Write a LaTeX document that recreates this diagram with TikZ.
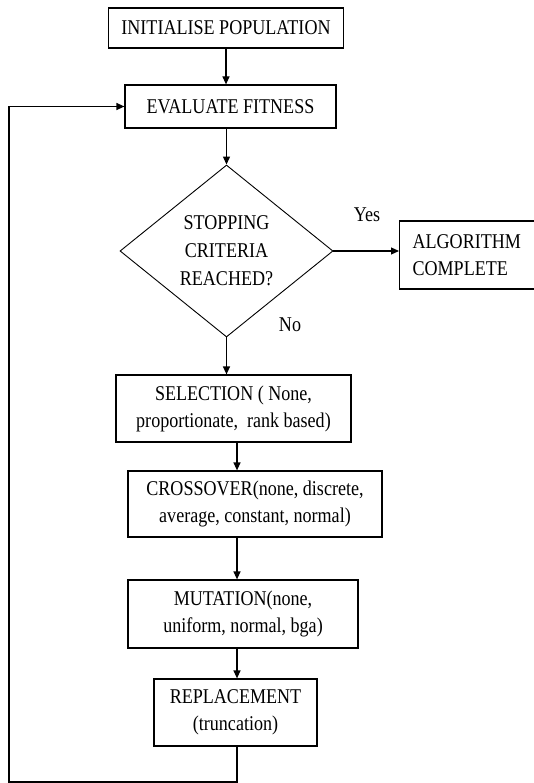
\documentclass[tikz,border=0pt]{standalone}
\usepackage{fontspec}
\setmainfont{Liberation Serif}[FakeStretch=0.86]
\usetikzlibrary{arrows.meta, positioning, shapes.geometric}

\begin{document}
\begin{tikzpicture}[x=1pt, y=-1pt,
  box/.style={draw, line width=1.2pt, align=center, inner sep=0pt, font=\fontsize{21}{27}\selectfont},
  decision/.style={diamond, draw, line width=0.9pt, align=center, inner sep=0pt, font=\fontsize{21}{28}\selectfont},
  lbl/.style={font=\fontsize{21}{24}\selectfont, inner sep=0pt},
  arr/.style={-{Triangle[length=8pt, width=7pt]}, line width=1.2pt}]
\useasboundingbox (0,0) rectangle (534,783);
\node[box, minimum width=235pt, minimum height=40pt] (init) at (226,28) {INITIALISE POPULATION};
\node[box, minimum width=211pt, minimum height=43pt] (eval) at (230.5,106.5) {EVALUATE FITNESS};
\node[decision, minimum width=213pt, minimum height=172pt] (stop) at (226.5,251) {STOPPING\\CRITERIA\\REACHED?};
\node[box, anchor=west, text width=124pt, inner xsep=13pt, align=left, minimum height=68pt] (done) at (399,255) {ALGORITHM\\COMPLETE};
\node[box, minimum width=235pt, minimum height=67pt] (sel) at (233.5,408.5) {SELECTION ( None,\\proportionate,\ \ rank based)};
\node[box, minimum width=254pt, minimum height=66pt] (cross) at (255,504) {CROSSOVER(none, discrete,\\average, constant, normal)};
\node[box, minimum width=230pt, minimum height=68pt] (mut) at (243,614) {MUTATION(none,\\uniform, normal, bga)};
\node[box, minimum width=163pt, minimum height=67pt] (repl) at (235.5,712.5) {REPLACEMENT\\(truncation)};
\node[lbl] (yes) at (367,215) {Yes};
\node[lbl] (no) at (290,325) {No};
\coordinate (spine) at (237,0);
\coordinate (corner) at (9,782);
% main flow
\draw[arr] (init.south) -- (init.south |- eval.north);
\draw[arr] (eval.south -| stop.north) -- (stop.north);
\draw[arr] (stop.east) -- (stop.east -| done.west);
\draw[arr] (stop.south) -- (stop.south |- sel.north);
\draw[arr] (sel.south -| spine) -- (cross.north -| spine);
\draw[arr] (cross.south -| spine) -- (mut.north -| spine);
\draw[arr] (mut.south -| spine) -- (repl.north -| spine);
% loop back
\draw[arr] (repl.south -| spine) |- (corner) |- (eval.west);
\end{tikzpicture}
\end{document}
